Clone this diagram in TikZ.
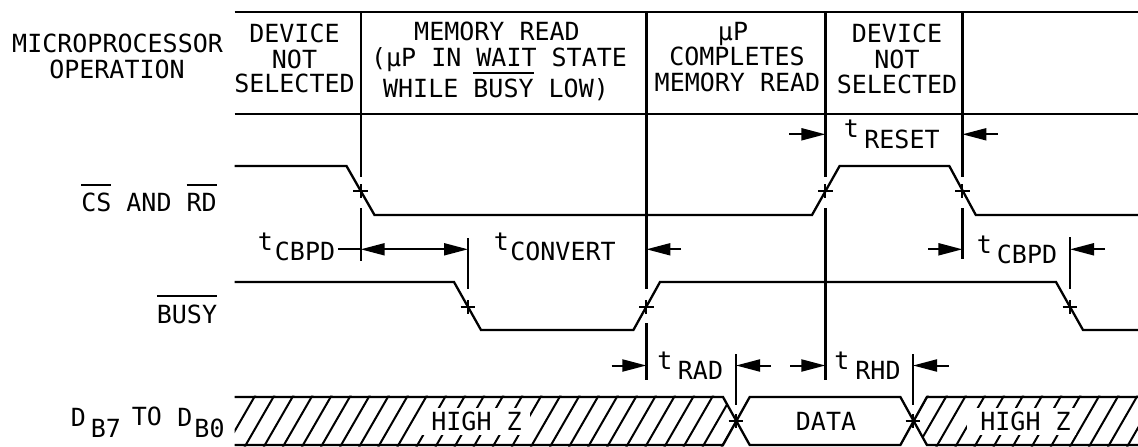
\documentclass[tikz,border=0pt]{standalone}
\usepackage{fontspec}
\setmainfont{DejaVu Sans Mono}
\usetikzlibrary{arrows.meta}
\newcommand\ovl[2][24.5pt]{\setbox0\hbox{#2}\rlap{\rule[#1]{\wd0}{2pt}}#2}
\tikzset{
  x=1pt,y=-1pt,
  wire/.style={line width=2.3pt,line cap=butt,line join=miter,black},
  hatchline/.style={line width=2pt,black},
  lab/.style={anchor=base,inner sep=0pt,outer sep=0pt,font=\fontsize{25}{25}\selectfont},
  dim/.style={line width=2pt,black},
  head/.style={-{Triangle[length=24pt,width=12pt]}},
  dhead/.style={{Triangle[length=24pt,width=12pt]}-{Triangle[length=24pt,width=12pt]}},
}
\newcommand\crossat[2]{\draw[wire,line width=2pt] (#1-7.3,#2)--(#1+7.3,#2) (#1,#2-7)--(#1,#2+7);}
\begin{document}
\begin{tikzpicture}
\useasboundingbox (0,0) rectangle (1138,447);
% frame rules
\draw[wire] (234.5,12)--(1138,12) (234.5,114)--(1138,114);
% verticals
\draw[wire] (360.7,12)--(360.7,177) (360.7,208)--(360.7,260.7);
\draw[wire] (646.4,12)--(646.4,289.3) (646.4,323)--(646.4,380);
\draw[wire] (825.4,12)--(825.4,177) (825.4,208)--(825.4,380);
\draw[wire] (962.4,12)--(962.4,177) (962.4,208)--(962.4,259);
\draw[wire] (468,238)--(468,289.3);
\draw[wire] (1070,237)--(1070,289.3);
\draw[wire] (736,354)--(736,405);
\draw[wire] (913,354)--(913,405);
% waveforms
\draw[wire] (234.5,166)--(346.5,166)--(374.5,215)--(812,215)--(839.6,166)--(949.3,166)--(975.8,215)--(1138,215);
\draw[wire] (234.5,282)--(454,282)--(481,330)--(633.4,330)--(660,282)--(1056,282)--(1083,330)--(1138,330);
% crosses
\crossat{360.7}{191}\crossat{825.4}{191}\crossat{962.4}{191}
\crossat{468}{307}\crossat{646.4}{307}\crossat{1070}{307}
\crossat{736}{421}\crossat{913}{421}
% hatch, left
\begin{scope}
\clip (234.5,395.5)--(723,395.5)--(736.4,421)--(723,446.5)--(234.5,446.5)--cycle;
\foreach \k in {0,...,26}{\draw[hatchline] ({254.5+19.08*\k+1},395)--({254.5+19.08*\k-29},447);}
\end{scope}
% hatch, right
\begin{scope}
\clip (927,395.5)--(913.4,421)--(927,446.5)--(1138,446.5)--(1138,395.5)--cycle;
\foreach \k in {0,...,12}{\draw[hatchline] ({927+19.08*\k+1},395)--({927+19.08*\k-29},447);}
\end{scope}
\fill[white] (421,408) rectangle (530,435);
\fill[white] (967,408) rectangle (1076,435);
% bus outline
\draw[wire] (234.5,397)--(723,397)--(749.7,445)--(900.4,445)--(926.9,397)--(1138,397);
\draw[wire] (234.5,445)--(723,445)--(749.7,397)--(900.4,397)--(926.9,445)--(1138,445);
% dimension arrows
\coordinate (a1) at (338,249.3); \coordinate (a2) at (360.7,249.3); \coordinate (a3) at (468,249.3);
\draw[dim] (a1)--(a2);
\draw[dim,dhead] (a2)--(a3);
\coordinate (b1) at (681,249.3); \coordinate (b2) at (646.4,249.3);
\draw[dim,head] (b1)--(b2);
\coordinate (c1) at (789,134.3); \coordinate (c2) at (825.4,134.3);
\coordinate (c3) at (997.5,134.3); \coordinate (c4) at (962.4,134.3);
\draw[dim,head] (c1)--(c2);
\draw[dim,head] (c3)--(c4);
\coordinate (d1) at (928,249.3); \coordinate (d2) at (962.4,249.3);
\coordinate (d3) at (1105,249.3); \coordinate (d4) at (1070,249.3);
\draw[dim,head] (d1)--(d2);
\draw[dim,head] (d3)--(d4);
\coordinate (e1) at (611.7,365.5); \coordinate (e2) at (646.4,365.5);
\coordinate (e3) at (771,365.5); \coordinate (e4) at (736,365.5);
\draw[dim,head] (e1)--(e2);
\draw[dim,head] (e3)--(e4);
\coordinate (f1) at (790,365.5); \coordinate (f2) at (825.4,365.5);
\coordinate (f3) at (948.6,365.5); \coordinate (f4) at (913,365.5);
\draw[dim,head] (f1)--(f2);
\draw[dim,head] (f3)--(f4);
% labels
\node[lab] (l1) at (117.6,52) {MICROPROCESSOR};
\node[lab] (l2) at (117,78) {OPERATION};
\node[lab] (h1) at (294.5,42) {DEVICE};
\node[lab] (h2) at (294.5,68) {NOT};
\node[lab] (h3) at (294.5,92) {SELECTED};
\node[lab] (m1) at (497,40) {MEMORY READ};
\node[lab] (m2) at (499,66) {(µP IN WAIT STATE};
\node[lab] (m3) at (496,97) {WHILE \ovl[23pt]{BUSY} LOW)};
\node[lab] (p1) at (733,40) {µP};
\node[lab] (p2) at (737,65) {COMPLETES};
\node[lab] (p3) at (737.5,91) {MEMORY READ};
\node[lab] (n1) at (897,42) {DEVICE};
\node[lab] (n2) at (897,68) {NOT};
\node[lab] (n3) at (897,93) {SELECTED};
\node[lab] (r1) at (851.5,137) {t};
\node[lab] (r2) at (902,148) {RESET};
\node[lab] (s1) at (149,211) {\ovl[25pt]{CS} AND \ovl[25pt]{RD}};
\node[lab] (s2) at (187,323) {\ovl[26pt]{BUSY}};
\node[lab] (t1) at (265.5,250) {t};
\node[lab] (t2) at (305,260) {CBPD};
\node[lab] (u1) at (501.5,250) {t};
\node[lab] (u2) at (563,260) {CONVERT};
\node[lab] (v1) at (984.5,253) {t};
\node[lab] (v2) at (1027,263) {CBPD};
\node[lab] (w1) at (665,369) {t};
\node[lab] (w2) at (700.5,379) {RAD};
\node[lab] (y1) at (842,369) {t};
\node[lab] (y2) at (878,379) {RHD};
\node[lab] (z1) at (476.5,430.5) {HIGH Z};
\node[lab] (z2) at (826,430.5) {DATA};
\node[lab] (z3) at (1025.5,430.5) {HIGH Z};
\node[lab] (b7a) at (78.5,426) {D};
\node[lab] (b7b) at (106,437) {B7};
\node[lab] (b7c) at (147,425) {TO};
\node[lab] (b0a) at (185,426) {D};
\node[lab] (b0b) at (209.5,437) {B0};
\end{tikzpicture}
\end{document}
